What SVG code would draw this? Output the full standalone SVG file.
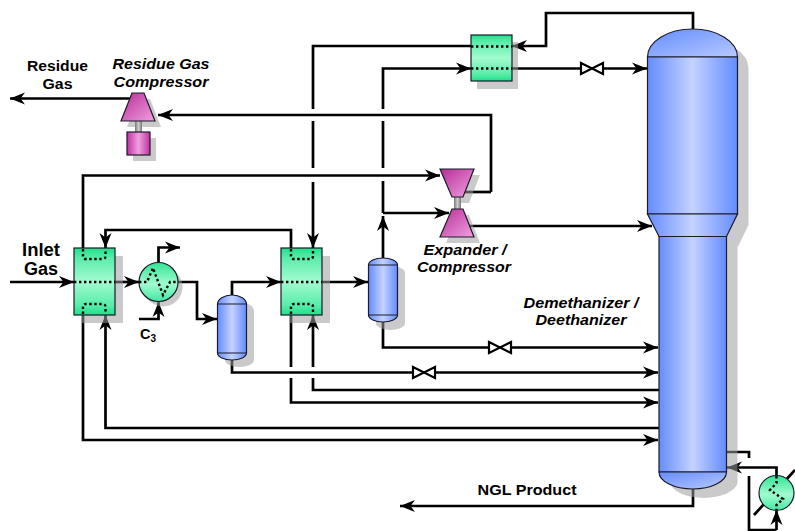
<svg xmlns="http://www.w3.org/2000/svg" width="795" height="531" viewBox="0 0 795 531">
<style>
.l{fill:none;stroke:#000;stroke-width:2.7}
.a{fill:none;stroke:#000;stroke-width:2.7;marker-end:url(#ah)}
.s{fill:#9d9d9d;fill-opacity:.54}
.o{stroke:#1a1a2a;stroke-width:1.2}
.d{fill:none;stroke:#000;stroke-width:2.4;stroke-dasharray:2.4 2.6}
.v{fill:#fff;stroke:#000;stroke-width:2.2}
.t{font-family:"Liberation Sans",Arial,sans-serif;font-weight:700;font-size:14.500px;fill:#000;text-anchor:middle}
.b{font-size:17.500px}
.i{font-style:italic}
</style>
<defs>
<marker id="ah" markerUnits="userSpaceOnUse" markerWidth="16" markerHeight="14" refX="15" refY="7" orient="auto"><path d="M0 1L15 7L0 13L4.500 7Z" fill="#000"/></marker>
<linearGradient id="g" x1="0" y1="0" x2="0" y2="1"><stop offset="0" stop-color="#1fe08a"/><stop offset=".15" stop-color="#5aedaa"/><stop offset=".5" stop-color="#a2fbd0"/><stop offset=".85" stop-color="#5aedaa"/><stop offset="1" stop-color="#1fe08a"/></linearGradient>
<linearGradient id="gc" x1="0" y1="0" x2="0" y2="1"><stop offset="0" stop-color="#30e494"/><stop offset=".55" stop-color="#a2fbd0"/><stop offset="1" stop-color="#40e8a0"/></linearGradient>
<linearGradient id="b" x1="0" y1="0" x2="1" y2="0"><stop offset="0" stop-color="#648cff"/><stop offset=".5" stop-color="#c4d2ff"/><stop offset="1" stop-color="#648cff"/></linearGradient>
<linearGradient id="bh" x1="0" y1="0" x2="1" y2="1"><stop offset="0" stop-color="#648cff"/><stop offset="1" stop-color="#b8c9ff"/></linearGradient>
<linearGradient id="m" x1="0" y1="0" x2="1" y2="0"><stop offset="0" stop-color="#c030a0"/><stop offset=".5" stop-color="#f0a0e0"/><stop offset="1" stop-color="#c030a0"/></linearGradient>
<linearGradient id="mt" x1="0" y1="0" x2="1" y2="1"><stop offset="0" stop-color="#b82c98"/><stop offset="1" stop-color="#f0a0e0"/></linearGradient>
<linearGradient id="sh" x1="0" y1="0" x2="1" y2="0"><stop offset="0" stop-color="#777"/><stop offset=".5" stop-color="#ccc"/><stop offset="1" stop-color="#777"/></linearGradient>
</defs>

<g id="connectors">
<path class="a" d="M132 98.500H10"/>
<path class="a" d="M491 192V115H158"/>
<path class="l" d="M463 192H491"/>
<path class="a" d="M83 248V175.500H440"/>
<path class="a" d="M471 46H313V109M313 121V168M313 182V248"/>
<path class="a" d="M383 258V216"/>
<path class="a" d="M383 213H449"/>
<path class="a" d="M383 213V181M383 168V121M383 109V68.500H471"/>
<path class="a" d="M468 226H652"/>
<path class="a" d="M512 68.500H647"/>
<path class="a" d="M693 29V13H546V46H512"/>
<path class="a" d="M10 282H74"/>
<path class="a" d="M115 282H139"/>
<path class="a" d="M178 282H197V319H217"/>
<path class="a" d="M158.500 263V247.500H180"/>
<path class="a" d="M139 319H158.500V302"/>
<path class="a" d="M291 248V230H105.500V248"/>
<path class="a" d="M232 295V282H281"/>
<path class="a" d="M322 282H368"/>
<path class="a" d="M232 360V372.500H658"/>
<path class="a" d="M383 322V347.500H658"/>
<path class="a" d="M291 315V367M291 378V402.500H658"/>
<path class="a" d="M659 390H313V378M313 367V315"/>
<path class="a" d="M659 428H105.500V315"/>
<path class="a" d="M83 315V440H658"/>
<path class="a" d="M693 489V506H400"/>
<path class="l" d="M727 452H749V458M749 476V530H776.500"/>
<path class="a" d="M776.500 530V510"/>
<path class="a" d="M776.500 476V467.500H727"/>
<path class="l" d="M754 515L765 503M785 481L795 470"/>
</g>

<g id="valve1"><path class="v" d="M581 63L592 68.500L581 74ZM603 63L592 68.500L603 74Z"/></g>
<g id="valve2"><path class="v" d="M489 342L500 347.500L489 353ZM511 342L500 347.500L511 353Z"/></g>
<g id="valve3"><path class="v" d="M413 367L424 372.500L413 378ZM435 367L424 372.500L435 378Z"/></g>

<g id="exchanger1">
<rect class="s" x="82" y="256" width="41" height="67"/>
<rect class="o" x="74" y="248" width="41" height="67" fill="url(#g)"/>
<path class="d" d="M83 249V256Q83 259 86 259H102Q105.500 259 105.500 256V249M74 282H115M83 314V307Q83 304 86 304H102Q105.500 304 105.500 307V314"/>
</g>
<g id="chiller">
<circle class="s" cx="163" cy="287" r="19.500"/>
<circle class="o" cx="158.500" cy="282" r="19.500" fill="url(#gc)"/>
<path class="d" d="M139 282H147L153 268L163 295L170 282H178"/>
</g>
<g id="separator1">
<path class="s" d="M225 311A14.500 9 0 0 1 254 311V360A14.500 7 0 0 1 225 360Z"/>
<path class="o" d="M217.500 304A14.500 9 0 0 1 246.500 304V353A14.500 7 0 0 1 217.500 353Z" fill="url(#b)"/>
<path class="o" d="M217.500 304H246.500M217.500 353H246.500" fill="none"/>
</g>
<g id="exchanger2">
<rect class="s" x="289" y="256" width="41" height="67"/>
<rect class="o" x="281" y="248" width="41" height="67" fill="url(#g)"/>
<path class="d" d="M291 249V256Q291 259 294 259H310Q313 259 313 256V249M281 282H322M291 314V307Q291 304 294 304H310Q313 304 313 307V314"/>
</g>
<g id="separator2">
<path class="s" d="M376 273A14.500 7 0 0 1 405 273V323A14.500 7 0 0 1 376 323Z"/>
<path class="o" d="M368.500 265A14.500 7 0 0 1 397.500 265V315A14.500 7 0 0 1 368.500 315Z" fill="url(#b)"/>
<path class="o" d="M368.500 265H397.500M368.500 315H397.500" fill="none"/>
</g>
<g id="exchanger3">
<rect class="s" x="477" y="42" width="41" height="47"/>
<rect class="o" x="471" y="35" width="41" height="46" fill="url(#g)"/>
<path class="d" d="M471 46.500H512M471 68.500H512"/>
</g>
<g id="residue-compressor">
<path class="s" d="M138 99H150L161 127H127ZM133 138H156V161H133Z"/>
<rect x="135" y="121" width="7" height="11" fill="url(#sh)"/>
<path class="o" d="M132 93H144L155 121H121Z" fill="url(#mt)"/>
<rect class="o" x="127" y="132" width="23" height="23" fill="url(#m)"/>
</g>
<g id="expander-compressor">
<path class="s" d="M446 175H480L469 203H458ZM458 215H469L480 243H446Z"/>
<rect x="454" y="197" width="7" height="12" fill="url(#sh)"/>
<path class="o" d="M440 169H474L463 197H452Z" fill="url(#mt)"/>
<path class="o" d="M452 209H463L474 237H440Z" fill="url(#mt)"/>
</g>
<g id="column">
<path class="s" d="M658.500 68A45 28 0 0 1 748.500 68V225L737.500 247.500V483A34 17 0 0 1 670 483V68Z"/>
<path class="o" d="M647.500 57A45 28 0 0 1 737.500 57Z" fill="url(#bh)"/>
<path class="o" d="M647.500 57H737.500V214H647.500Z" fill="url(#b)"/>
<path class="o" d="M647.500 214H737.500L726.500 236.500H659Z" fill="url(#b)"/>
<path class="o" d="M659 236.500H726.500V472H659Z" fill="url(#b)"/>
<path class="o" d="M659 472H726.500A33.750 17 0 0 1 659 472Z" fill="url(#bh)"/>
</g>
<g id="reboiler">
<circle class="o" cx="776.500" cy="493" r="17.500" fill="url(#gc)"/>
<path class="d" d="M776.500 476V483L770 490L783 499L776.500 505V510"/>
</g>

<g id="labels">
<text class="t" x="57.500" y="71" textLength="61" lengthAdjust="spacingAndGlyphs">Residue</text>
<text class="t" x="57.500" y="88.500" textLength="30" lengthAdjust="spacingAndGlyphs">Gas</text>
<text class="t i" x="161" y="69" textLength="97" lengthAdjust="spacingAndGlyphs">Residue Gas</text>
<text class="t i" x="161" y="87" textLength="95" lengthAdjust="spacingAndGlyphs">Compressor</text>
<text class="t b" x="41" y="256" textLength="38" lengthAdjust="spacingAndGlyphs">Inlet</text>
<text class="t b" x="41" y="275" textLength="34" lengthAdjust="spacingAndGlyphs">Gas</text>
<text class="t" x="148" y="339">C<tspan font-size="10" dy="3">3</tspan></text>
<text class="t i" x="465" y="255" textLength="83" lengthAdjust="spacingAndGlyphs">Expander /</text>
<text class="t i" x="464" y="272" textLength="94" lengthAdjust="spacingAndGlyphs">Compressor</text>
<text class="t i" x="581" y="308" textLength="115" lengthAdjust="spacingAndGlyphs">Demethanizer /</text>
<text class="t i" x="581" y="325" textLength="91" lengthAdjust="spacingAndGlyphs">Deethanizer</text>
<text class="t" x="527" y="495" textLength="99" lengthAdjust="spacingAndGlyphs">NGL Product</text>
</g>
</svg>
